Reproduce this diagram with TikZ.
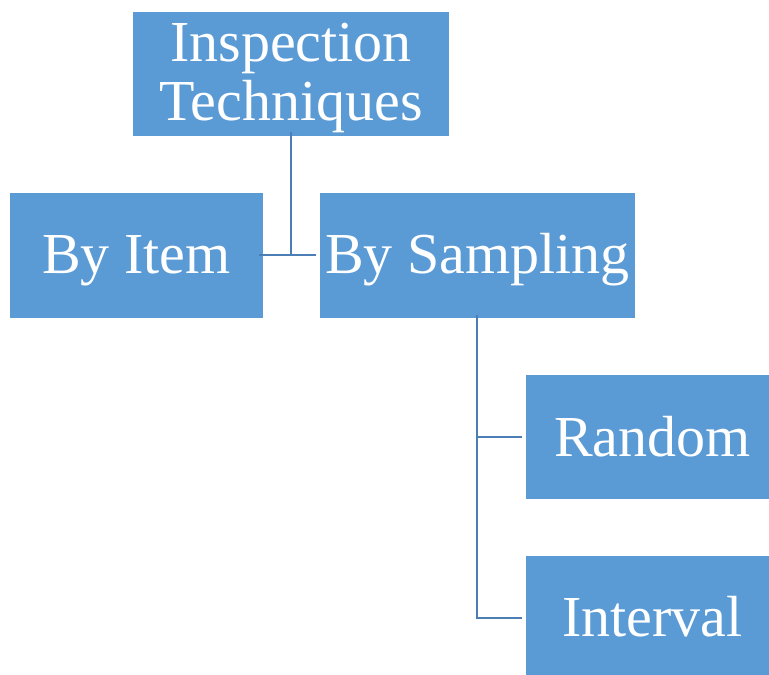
\documentclass[tikz,border=0pt]{standalone}
\usepackage{fontspec}
\setmainfont{Liberation Serif}
\definecolor{boxblue}{HTML}{5B9BD5}
\definecolor{lineblue}{HTML}{4A7EB4}
\newcommand{\lowered}[2]{\raisebox{-#1}[0pt][0pt]{#2}}
\begin{document}
\begin{tikzpicture}[x=1pt,y=-1pt,
  box/.style={fill=boxblue,draw=none,text=white,inner sep=0pt,align=center,
    font=\fontsize{58}{59}\selectfont},
  conn/.style={draw=lineblue,line width=2.5pt}]
\useasboundingbox (0,0) rectangle (769,675);
\node[box,minimum width=316pt,minimum height=124pt] (top) at (291,74) {\lowered{46pt}{\begin{tabular}[b]{@{}c@{}}Inspection\\Techniques\end{tabular}}};
\node[box,minimum width=253pt,minimum height=125pt] (item) at (136.5,255.5) {\lowered{18pt}{By Item}};
\node[box,minimum width=315pt,minimum height=125pt] (samp) at (477.5,255.5) {\lowered{18pt}{By Sampling}};
\node[box,minimum width=243pt,minimum height=124pt] (rand) at (647.5,437) {\lowered{19pt}{\,Random}};
\node[box,minimum width=243pt,minimum height=119pt] (intv) at (647.5,615.5) {\lowered{21pt}{\,Interval}};
\coordinate (j1) at (291,255);
\coordinate (j2) at (477,437);
\coordinate (j3) at (477,618);
\draw[conn] ([yshift=4pt]top.south) -- (j1);
\draw[conn] ([xshift=-4pt]item.east |- j1) -- ([xshift=-4pt]samp.west |- j1);
\draw[conn] ([yshift=3pt]samp.south -| j2) -- (j3) -- ([xshift=-4pt]intv.west |- j3);
\draw[conn] (j2) -- ([xshift=-4pt]rand.west |- j2);
\end{tikzpicture}
\end{document}
